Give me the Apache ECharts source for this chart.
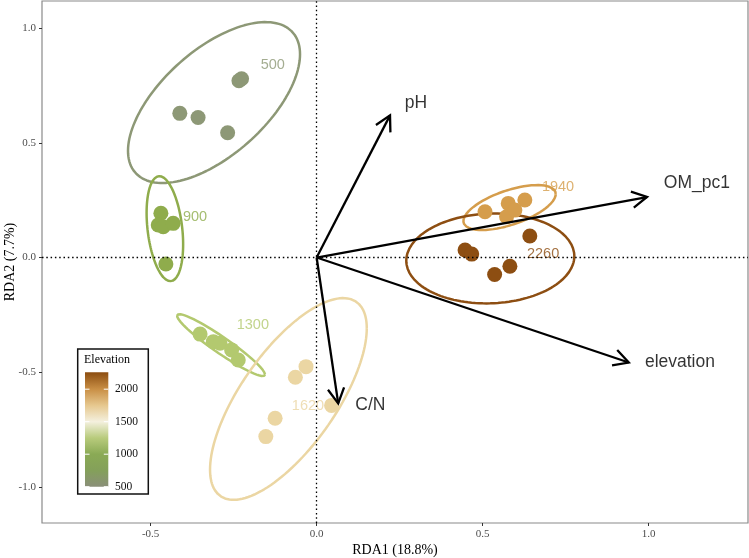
<!DOCTYPE html>
<html>
<head>
<meta charset="utf-8">
<title>RDA biplot</title>
<script src="https://cdn.jsdelivr.net/npm/echarts@6/dist/echarts.min.js"></script>
<style>
  html, body { margin: 0; padding: 0; background: #fff; }
  #main { width: 749px; height: 558px; }
</style>
</head>
<body>
<div id="main"></div>
<script>
// 海拔分组
const groups = ["500", "900", "1300", "1620", "1940", "2260"];
const groupColors = ["#8d9876", "#8fac4c", "#b3c96f", "#ebd6a3", "#d59d4c", "#8d4e12"];

// 样点得分 [RDA1, RDA2]
const pts500 = [[-0.412, 0.629], [-0.357, 0.611], [-0.268, 0.544], [-0.234, 0.771], [-0.226, 0.780]];
const pts900 = [[-0.469, 0.193], [-0.477, 0.142], [-0.462, 0.134], [-0.432, 0.149], [-0.454, -0.028]];
const pts1300 = [[-0.351, -0.334], [-0.311, -0.367], [-0.291, -0.374], [-0.256, -0.403], [-0.236, -0.447]];
const pts1620 = [[-0.032, -0.476], [-0.064, -0.522], [0.045, -0.645], [-0.125, -0.701], [-0.153, -0.781]];
const pts1940 = [[0.507, 0.200], [0.577, 0.236], [0.627, 0.251], [0.572, 0.178], [0.597, 0.207]];
const pts2260 = [[0.447, 0.033], [0.467, 0.015], [0.642, 0.094], [0.582, -0.038], [0.536, -0.074]];
const groupPoints = [pts500, pts900, pts1300, pts1620, pts1940, pts2260];

// 置信椭圆: 中心, 横向/纵向半幅, 相关系数
const ellCx = [-0.309, -0.457, -0.288, -0.085, 0.581, 0.523];
const ellCy = [0.676, 0.126, -0.382, -0.617, 0.218, -0.004];
const ellSx = [0.259, 0.055, 0.1325, 0.236, 0.139, 0.253];
const ellSy = [0.351, 0.229, 0.135, 0.440, 0.098, 0.196];
const ellR = [0.6, -0.3, -0.95, 0.7, 0.6, 0.05];

// 分组标签位置
const groupLabelX = [-0.132, -0.366, -0.192, -0.026, 0.727, 0.682];
const groupLabelY = [0.838, 0.177, -0.294, -0.648, 0.307, 0.015];

// 环境因子箭头
const envNames = ["pH", "OM_pc1", "elevation", "C/N"];
const envRDA1 = [0.221, 0.995, 0.94, 0.065];
const envRDA2 = [0.620, 0.264, -0.458, -0.636];
const envLabelX = [0.299, 1.145, 1.094, 0.162];
const envLabelY = [0.674, 0.325, -0.457, -0.643];

// 坐标轴刻度
const xTicks = [-0.5, 0, 0.5, 1];
const yTicks = [-1, -0.5, 0, 0.5, 1];

// 图例色带
const legendTicks = [500, 1000, 1500, 2000];
const gradVals = [500, 750, 1000, 1250, 1500, 1750, 2000, 2260];
const gradColors = ["#8a8f79", "#84a05a", "#8aaa55", "#b8cb7c", "#f4f0de", "#e6c88f", "#c98f45", "#8c4d10"];

const chart = echarts.init(document.getElementById("main"));

// 椭圆点列
function ellipse(i) {
  const out = [];
  const n = 140;
  const k = Math.sqrt(1 - ellR[i] * ellR[i]);
  for (let j = 0; j <= n; j++) {
    const t = (2 * Math.PI * j) / n;
    out.push([ellCx[i] + ellSx[i] * Math.cos(t), ellCy[i] + ellSy[i] * (ellR[i] * Math.cos(t) + k * Math.sin(t))]);
  }
  return out;
}

const serif = "'Liberation Serif', 'DejaVu Serif', serif";
const sans = "'Liberation Sans', Arial, sans-serif";

const series = [];

// 零线
series.push({
  type: "scatter",
  data: [],
  markLine: {
    silent: true,
    symbol: ["none", "none"],
    label: { show: false },
    lineStyle: { color: "#000", type: [1.5, 2.8], width: 1.3 },
    data: [{ xAxis: 0 }, { yAxis: 0 }],
  },
  z: 1,
});

groups.forEach((g, i) => {
  series.push({
    type: "line",
    data: ellipse(i),
    showSymbol: false,
    symbol: "none",
    silent: true,
    lineStyle: { color: groupColors[i], width: 2.5 },
    z: 2,
  });
  series.push({
    type: "scatter",
    name: g,
    data: groupPoints[i],
    symbolSize: 15,
    itemStyle: { color: groupColors[i], opacity: 1 },
    z: 3,
  });
});

// 分组标签
series.push({
  type: "scatter",
  symbolSize: 0,
  silent: true,
  data: groups.map((g, i) => ({
    value: [groupLabelX[i], groupLabelY[i]],
    name: g,
    label: { color: groupColors[i] },
  })),
  label: {
    show: true,
    position: "inside",
    formatter: (p) => p.name,
    fontFamily: sans,
    fontSize: 14.5,
  },
  z: 4,
});

// 箭头
series.push({
  type: "custom",
  silent: true,
  data: envRDA1.map((x, i) => [x, envRDA2[i]]),
  renderItem: function (params, api) {
    const p0 = api.coord([0, 0]);
    const p1 = api.coord([api.value(0), api.value(1)]);
    const ang = Math.atan2(p1[1] - p0[1], p1[0] - p0[0]);
    const len = 17;
    const spread = Math.PI / 6.3;
    const a = [p1[0] - len * Math.cos(ang - spread), p1[1] - len * Math.sin(ang - spread)];
    const b = [p1[0] - len * Math.cos(ang + spread), p1[1] - len * Math.sin(ang + spread)];
    return {
      type: "group",
      children: [
        { type: "line", shape: { x1: p0[0], y1: p0[1], x2: p1[0], y2: p1[1] }, style: { stroke: "#000", lineWidth: 2.3 } },
        { type: "polyline", shape: { points: [a, p1, b] }, style: { stroke: "#000", fill: null, lineWidth: 2.3 } },
      ],
    };
  },
  z: 5,
});

// 箭头标签
series.push({
  type: "scatter",
  symbolSize: 0,
  silent: true,
  data: envNames.map((n, i) => ({ value: [envLabelX[i], envLabelY[i]], name: n })),
  label: {
    show: true,
    position: "inside",
    formatter: (p) => p.name,
    color: "#000",
    fontFamily: sans,
    fontSize: 17.5,
  },
  z: 6,
});

// 图例 (色带)
const barX = 85, barW = 23.3, barBottom = 486.7, barTop = 372.3;
const vMin = gradVals[0], vMax = gradVals[gradVals.length - 1];
const vToY = (v) => barBottom - ((v - vMin) / (vMax - vMin)) * (barBottom - barTop);
const legendGraphics = [
  {
    type: "rect",
    shape: { x: 77.7, y: 349, width: 70.6, height: 145 },
    style: { fill: "#fff", stroke: "#111", lineWidth: 1.5 },
    z: 20,
  },
  {
    type: "text",
    x: 84,
    y: 354,
    style: { text: "Elevation", fontFamily: serif, fontSize: 12, fill: "#000" },
    z: 21,
  },
  {
    type: "rect",
    shape: { x: barX, y: barTop, width: barW, height: barBottom - barTop },
    style: {
      fill: new echarts.graphic.LinearGradient(0, 1, 0, 0,
        gradVals.map((v, i) => ({ offset: (v - vMin) / (vMax - vMin), color: gradColors[i] }))),
    },
    z: 21,
  },
];
legendTicks.forEach((v) => {
  const y = vToY(v);
  legendGraphics.push(
    { type: "line", shape: { x1: barX, y1: y, x2: barX + 4.5, y2: y }, style: { stroke: "#fff", lineWidth: 1 }, z: 22 },
    { type: "line", shape: { x1: barX + barW - 4.5, y1: y, x2: barX + barW, y2: y }, style: { stroke: "#fff", lineWidth: 1 }, z: 22 },
    {
      type: "text",
      x: 115,
      y: y,
      style: { text: String(v), fontFamily: serif, fontSize: 11.5, fill: "#111", verticalAlign: "middle" },
      z: 22,
    }
  );
});

const option = {
  animation: false,
  backgroundColor: "#fff",
  grid: {
    left: 42, right: 1, top: 1, bottom: 35,
    outerBoundsMode: "none",
    containLabel: false,
    show: true, borderColor: "#8a8a8a", borderWidth: 1.2,
  },
  xAxis: {
    type: "value",
    min: -0.827,
    max: 1.299,
    name: "RDA1 (18.8%)",
    nameLocation: "middle",
    nameGap: 20,
    nameMoveOverlap: false,
    nameTextStyle: { fontFamily: serif, fontSize: 14, color: "#000" },
    axisLine: { show: false, onZero: false },
    splitLine: { show: false },
    axisTick: { show: true, length: 3, customValues: xTicks, lineStyle: { color: "#333" } },
    axisLabel: {
      customValues: xTicks,
      margin: 6,
      fontFamily: serif,
      fontSize: 11,
      color: "#4d4d4d",
      formatter: (v) => v.toFixed(1),
    },
  },
  yAxis: {
    type: "value",
    min: -1.158,
    max: 1.119,
    name: "RDA2 (7.7%)",
    nameLocation: "middle",
    nameGap: 25,
    nameMoveOverlap: false,
    nameTextStyle: { fontFamily: serif, fontSize: 14, color: "#000" },
    axisLine: { show: false, onZero: false },
    splitLine: { show: false },
    axisTick: { show: true, length: 3, customValues: yTicks, lineStyle: { color: "#333" } },
    axisLabel: {
      customValues: yTicks,
      margin: 6,
      fontFamily: serif,
      fontSize: 11,
      color: "#4d4d4d",
      formatter: (v) => v.toFixed(1),
    },
  },
  series: series,
  graphic: legendGraphics,
};

chart.setOption(option);
</script>
</body>
</html>
